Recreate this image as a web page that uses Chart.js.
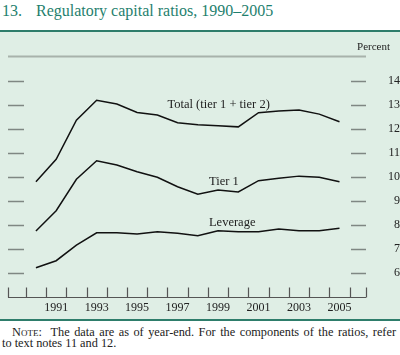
<!DOCTYPE html>
<html>
<head>
<meta charset="utf-8">
<script src="https://cdn.jsdelivr.net/npm/chart.js@4.4.0/dist/chart.umd.min.js"></script>
<style>
  body { margin: 0; width: 400px; height: 355px; position: relative; overflow: hidden; background: #fff;
         font-family: "Liberation Serif", "Times New Roman", serif; color: #222; }
  #title { position: absolute; left: 2px; top: 2px; font-size: 16px; line-height: 18px; color: #1f7f6e; white-space: nowrap; }
  #title .num { display: inline-block; width: 34px; }
  #panel { position: absolute; left: 0; top: 30px; width: 400px; height: 291px; box-sizing: border-box;
           background: #dfeee5; border-top: 2px solid #2e7d6b; border-bottom: 2px solid #2e7d6b; }
  #wrap { position: absolute; left: 0; top: 32px; width: 400px; height: 287px; }
  .note { position: absolute; left: 2px; width: 394px; font-size: 12.3px; line-height: 11px; white-space: nowrap; }
  #note1 { top: 327px; text-align: justify; text-align-last: justify; padding-left: 10px; width: 384px; }
  #note2 { top: 338px; }
  .sc { font-variant: small-caps; }
</style>
</head>
<body>
<div id="title"><span class="num">13.</span>Regulatory capital ratios, 1990–2005</div>
<div id="panel"></div>
<div id="wrap"><canvas id="chart" width="400" height="287"></canvas></div>
<div class="note" id="note1"><span class="sc">Note</span>:&nbsp; The data are as of year-end. For the components of the ratios, refer</div>
<div class="note" id="note2">to text notes 11 and 12.</div>
<script>
const years = [1990, 1991, 1992, 1993, 1994, 1995, 1996, 1997, 1998, 1999, 2000, 2001, 2002, 2003, 2004, 2005];
const totalRatio = [9.80, 10.73, 12.36, 13.19, 13.03, 12.68, 12.57, 12.25, 12.17, 12.13, 12.08, 12.67, 12.74, 12.78, 12.61, 12.29];
const tier1Ratio = [7.75, 8.59, 9.90, 10.67, 10.49, 10.21, 9.98, 9.59, 9.28, 9.45, 9.37, 9.84, 9.94, 10.03, 9.98, 9.80];
const leverageRatio = [6.22, 6.51, 7.16, 7.67, 7.67, 7.62, 7.72, 7.65, 7.55, 7.76, 7.72, 7.72, 7.83, 7.76, 7.76, 7.86];
const yearLabels = [1991, 1993, 1995, 1997, 1999, 2001, 2003, 2005];
const percentTicks = [6, 7, 8, 9, 10, 11, 12, 13, 14];

const X_MIN = 1988.62, X_MAX = 2006.31;
const SERIF = '"Liberation Serif", "Times New Roman", serif';

function toPoints(vals) {
  return vals.map((v, i) => ({ x: years[i], y: v }));
}

// series name labels, anchored in data units
const seriesLabels = [
  { text: 'Total (tier 1 + tier 2)', x: 1996.5, y: 13.0 },
  { text: 'Tier 1', x: 1998.55, y: 9.8 },
  { text: 'Leverage', x: 1998.55, y: 8.1 },
];

const framePlugin = {
  id: 'frame',
  afterDraw(chart) {
    const { ctx, chartArea } = chart;
    const xs = chart.scales.x, ys = chart.scales.y;
    ctx.save();

    // top rule
    ctx.strokeStyle = '#a8b2ab';
    ctx.lineWidth = 2;
    const yt = Math.round(ys.getPixelForValue(15)) - 0.5;
    ctx.beginPath();
    ctx.moveTo(chartArea.left, yt);
    ctx.lineTo(chartArea.right, yt);
    ctx.stroke();

    // horizontal marks at both sides
    ctx.strokeStyle = '#7f8783';
    ctx.lineWidth = 1.3;
    percentTicks.forEach((v) => {
      const y = Math.round(ys.getPixelForValue(v)) + 0.5;
      ctx.beginPath();
      ctx.moveTo(chartArea.left, y);
      ctx.lineTo(chartArea.left + 16, y);
      ctx.moveTo(chartArea.right - 15, y);
      ctx.lineTo(chartArea.right, y);
      ctx.stroke();
    });

    // bottom axis with year boundary marks
    ctx.strokeStyle = '#555';
    ctx.lineWidth = 1.2;
    const yb = Math.round(ys.getPixelForValue(5)) + 0.5;
    ctx.beginPath();
    ctx.moveTo(chartArea.left, yb);
    ctx.lineTo(chartArea.right, yb);
    const marks = [X_MIN, X_MAX];
    for (let y = 1989; y <= 2005; y++) marks.push(y + 0.5);
    marks.forEach((m) => {
      const x = Math.round(xs.getPixelForValue(m)) + 0.5;
      ctx.moveTo(x, yb);
      ctx.lineTo(x, yb - 10);
    });
    ctx.stroke();

    // series labels
    ctx.fillStyle = '#222';
    ctx.font = '12.5px ' + SERIF;
    ctx.textAlign = 'left';
    ctx.textBaseline = 'middle';
    seriesLabels.forEach((l) => {
      ctx.fillText(l.text, xs.getPixelForValue(l.x), ys.getPixelForValue(l.y));
    });

    // unit label
    ctx.font = '11px ' + SERIF;
    ctx.textAlign = 'right';
    ctx.fillText('Percent', 390, 15);
    ctx.restore();
  },
};

new Chart(document.getElementById('chart'), {
  type: 'line',
  data: {
    datasets: [
      { label: 'Total (tier 1 + tier 2)', data: toPoints(totalRatio) },
      { label: 'Tier 1', data: toPoints(tier1Ratio) },
      { label: 'Leverage', data: toPoints(leverageRatio) },
    ].map((d) => Object.assign(d, {
      borderColor: '#111',
      borderWidth: 1.5,
      pointRadius: 0,
      tension: 0,
      fill: false,
    })),
  },
  options: {
    responsive: false,
    animation: false,
    layout: { padding: { top: 24.7, left: 8, right: 0, bottom: 0 } },
    plugins: { legend: { display: false }, tooltip: { enabled: false } },
    scales: {
      x: {
        type: 'linear',
        min: X_MIN,
        max: X_MAX,
        grid: { display: false, drawTicks: false },
        border: { display: false },
        afterBuildTicks: (s) => { s.ticks = yearLabels.map((v) => ({ value: v })); },
        afterFit: (s) => { s.height = 22; },
        ticks: {
          color: '#222',
          padding: 4,
          maxRotation: 0,
          autoSkip: false,
          font: { family: SERIF, size: 12 },
          callback: (v) => String(v),
        },
      },
      y: {
        position: 'right',
        min: 5,
        max: 15,
        grid: { display: false, drawTicks: false },
        border: { display: false },
        afterBuildTicks: (s) => { s.ticks = percentTicks.map((v) => ({ value: v })); },
        afterFit: (s) => { s.width = 34; },
        ticks: {
          color: '#222',
          padding: 10,
          crossAlign: 'far',
          font: { family: SERIF, size: 12 },
          callback: (v) => String(v),
        },
      },
    },
  },
  plugins: [framePlugin],
});
</script>
</body>
</html>
